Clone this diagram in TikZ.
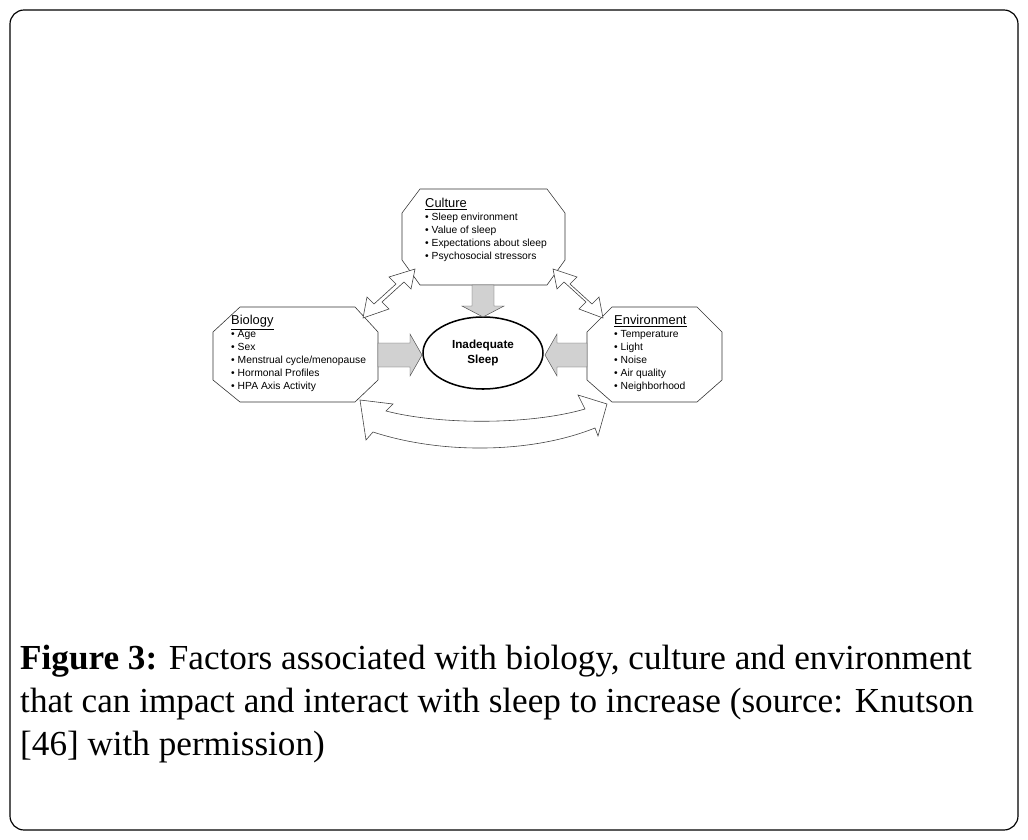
\documentclass[tikz,border=0pt]{standalone}
\usepackage{fontspec}
\setmainfont{Liberation Serif}
\setsansfont{Liberation Sans}
\usetikzlibrary{positioning}

\tikzset{
  factor/.style = {draw=black!80, fill=white, line width=0.5pt},
  blockarrow/.style = {draw=black!70, fill=black!18, line width=0.4pt},
  openarrow/.style = {draw=black!75, fill=white, line width=0.5pt},
  boxtext/.style = {font=\sffamily\fontsize{8.8}{11}\selectfont, align=left, anchor=north west, inner sep=0pt},
}
\newcommand{\heading}[1]{{\fontsize{11}{11}\selectfont\underline{#1}}}

\begin{document}
\begin{tikzpicture}[x=0.03cm, y=-0.03cm]
  \useasboundingbox (0,0) rectangle (1028,840);
  \draw[line width=1pt, rounded corners=12pt] (10,10) rectangle (1018,830);

  % factor boxes
  \draw[factor] (420,189) -- (547,189) -- (565,213) -- (565,260) -- (547,285)
    -- (420,285) -- (402,260) -- (402,213) -- cycle;
  \draw[factor] (240,307) -- (355,307) -- (378,332) -- (378,380) -- (355,402)
    -- (240,402) -- (213,380) -- (213,332) -- cycle;
  \draw[factor] (612,307) -- (697,307) -- (722,332) -- (722,380) -- (697,402)
    -- (612,402) -- (587,380) -- (587,332) -- cycle;

  \node[boxtext] (culture) at (425,198) {\heading{Culture}\\
    • Sleep environment\\ • Value of sleep\\ • Expectations about sleep\\ • Psychosocial stressors};
  \node[boxtext] (biology) at (231,315) {\heading{Biology}\\
    • Age\\ • Sex\\ • Menstrual cycle/menopause\\ • Hormonal Profiles\\ • HPA Axis Activity};
  \node[boxtext] (environment) at (614,315) {\heading{Environment}\\
    • Temperature\\ • Light\\ • Noise\\ • Air quality\\ • Neighborhood};

  % centre
  \draw[line width=1.3pt] (483,353) ellipse (60 and 36);
  \node[font=\sffamily\bfseries\fontsize{10}{13}\selectfont, align=center] (sleep) at (483,353) {Inadequate\\Sleep};

  % filled arrows into the centre
  \draw[blockarrow] (378,343) -- (410,343) -- (410,334) -- (422,355) -- (410,376)
    -- (410,367) -- (378,367) -- cycle;
  \draw[blockarrow] (587,343) -- (557,343) -- (557,334) -- (545,355) -- (557,376)
    -- (557,367) -- (587,367) -- cycle;
  \draw[blockarrow] (472,285) -- (494,285) -- (494,306) -- (504,306) -- (483,317)
    -- (462,306) -- (472,306) -- cycle;

  % open double arrows
  \draw[openarrow] (415,269) -- (411,289) -- (404,282) -- (382,302) -- (389,309)
    -- (363,318) -- (367,297) -- (374,304) -- (396,284) -- (389,277) -- cycle;
  \draw[openarrow] (553,269) -- (557,289) -- (564,282) -- (586,302) -- (579,309)
    -- (603,318) -- (599,297) -- (592,304) -- (570,284) -- (577,277) -- cycle;
  \draw[openarrow] (360,400) -- (393,404) -- (386,411)
    .. controls (440,425) and (530,425) .. (585,409)
    -- (578,395) -- (607,404) -- (598,436) -- (595,428)
    .. controls (530,454) and (440,454) .. (373,432)
    -- (366,440) -- cycle;

  % caption
  \node[anchor=north west, inner sep=0pt, align=left, font=\fontsize{30}{36.5}\selectfont] (caption) at (20,645)
    {\textbf{Figure 3:} Factors associated with biology, culture and environment\\
     that can impact and interact with sleep to increase (source: Knutson\\
     {[46]} with permission)};
\end{tikzpicture}
\end{document}
